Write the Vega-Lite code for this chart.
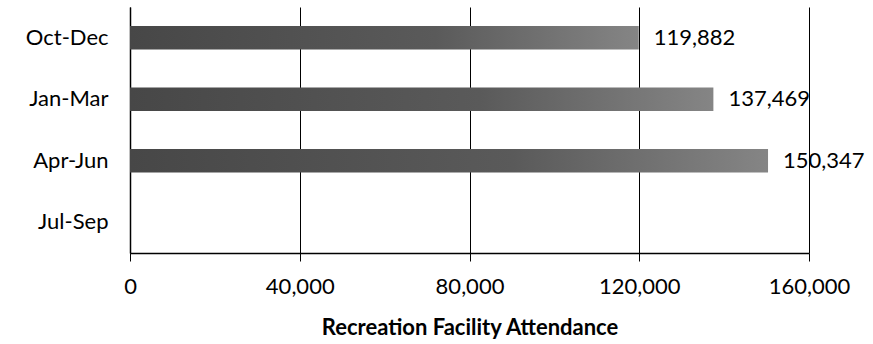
{
  "$schema": "https://vega.github.io/schema/vega-lite/v6.json",
  "autosize": {"type": "none"},
  "padding": {"left": 130, "top": 7, "right": 64, "bottom": 91},
  "width": 679,
  "height": 246,
  "background": "white",
  "config": {
    "font": "Lato",
    "view": {"stroke": null}
  },
  "data": {
    "values": [
      {"quarter": "Oct-Dec", "attendance": 119882},
      {"quarter": "Jan-Mar", "attendance": 137469},
      {"quarter": "Apr-Jun", "attendance": 150347},
      {"quarter": "Jul-Sep", "attendance": null}
    ]
  },
  "encoding": {
    "y": {
      "field": "quarter",
      "type": "nominal",
      "sort": ["Oct-Dec", "Jan-Mar", "Apr-Jun", "Jul-Sep"],
      "scale": {"paddingInner": 0.62, "paddingOuter": 0.31},
      "axis": {
        "title": null,
        "domainColor": "black",
        "domainWidth": 1.5,
        "ticks": false,
        "labelPadding": 22,
        "labelFontSize": 22,
        "labelColor": "black",
        "labelFont": "Lato"
      }
    },
    "x": {
      "field": "attendance",
      "type": "quantitative",
      "scale": {"domain": [0, 160000], "nice": false},
      "axis": {
        "values": [0, 40000, 80000, 120000, 160000],
        "format": ",d",
        "title": "Recreation Facility Attendance",
        "titleFontSize": 22,
        "titleFontWeight": "bold",
        "titleColor": "black",
        "titlePadding": 20,
        "titleFont": "Lato",
        "domainColor": "black",
        "domainWidth": 1.5,
        "tickColor": "black",
        "tickSize": 8,
        "gridColor": "black",
        "gridWidth": 1,
        "grid": true,
        "labelFlush": false,
        "labelPadding": 15,
        "labelFontSize": 22,
        "labelColor": "black",
        "labelFont": "Lato"
      }
    }
  },
  "layer": [
    {
      "mark": {
        "type": "bar",
        "color": {
          "gradient": "linear",
          "x1": 0, "x2": 1, "y1": 0, "y2": 0,
          "stops": [
            {"offset": 0, "color": "#474747"},
            {"offset": 0.6, "color": "#5a5a5a"},
            {"offset": 1, "color": "#858585"}
          ]
        }
      }
    },
    {
      "mark": {"type": "text", "align": "left", "baseline": "middle", "dx": 15, "fontSize": 22, "color": "black", "font": "Lato"},
      "encoding": {
        "text": {"field": "attendance", "type": "quantitative", "format": ",d"}
      }
    }
  ]
}
